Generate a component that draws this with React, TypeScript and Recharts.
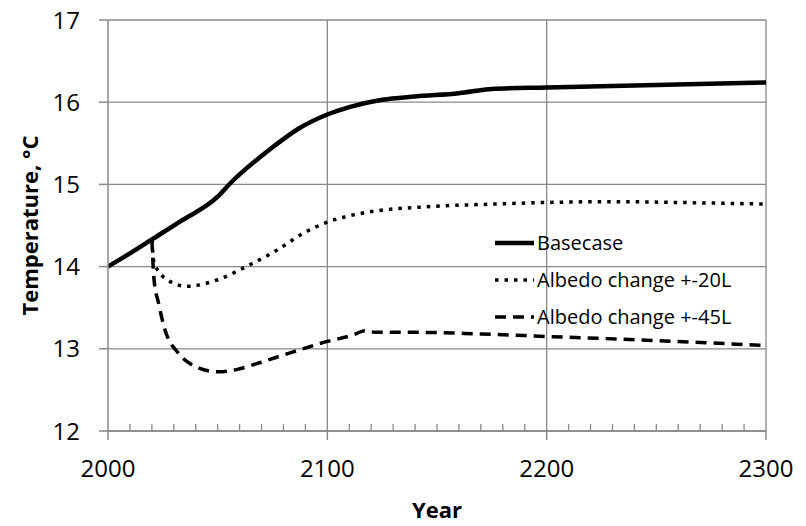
import { LineChart, Line, XAxis, YAxis, CartesianGrid, ReferenceLine } from 'recharts';

const majorYears = [2000, 2100, 2200, 2300];
const allYearTicks = [2000, 2010, 2020, 2030, 2040, 2050, 2060, 2070, 2080, 2090, 2100, 2110, 2120, 2130, 2140, 2150, 2160, 2170, 2180, 2190, 2200, 2210, 2220, 2230, 2240, 2250, 2260, 2270, 2280, 2290, 2300];
const yTicks = [12, 13, 14, 15, 16, 17];

const baseYears = [2000, 2010, 2020, 2033, 2050, 2056, 2074, 2087, 2100, 2110, 2125, 2140, 2160, 2175, 2200, 2250, 2300];
const baseTemps = [14.0, 14.16, 14.33, 14.55, 14.85, 15.02, 15.43, 15.68, 15.85, 15.94, 16.03, 16.07, 16.11, 16.16, 16.18, 16.21, 16.24];

const alb20Years = [2020, 2021, 2027, 2036, 2050, 2063, 2077, 2090, 2100, 2118, 2147, 2175, 2200, 2230, 2260, 2300];
const alb20Temps = [14.33, 14.05, 13.84, 13.76, 13.84, 14.0, 14.2, 14.42, 14.54, 14.66, 14.73, 14.76, 14.78, 14.79, 14.78, 14.76];

const alb45Years = [2020, 2021, 2023, 2026, 2032, 2038, 2050, 2059, 2069, 2083, 2100, 2112, 2117, 2122, 2142, 2170, 2200, 2250, 2300];
const alb45Temps = [14.33, 13.84, 13.56, 13.23, 12.95, 12.81, 12.72, 12.75, 12.83, 12.95, 13.09, 13.17, 13.22, 13.2, 13.2, 13.18, 13.15, 13.1, 13.04];

const toPoints = (years: number[], temps: number[]) => years.map((year, i) => ({ year, temp: temps[i] }));

const series = [
  { name: 'Basecase', data: toPoints(baseYears, baseTemps), width: 4.5, dash: undefined as string | undefined },
  { name: 'Albedo change +-20L', data: toPoints(alb20Years, alb20Temps), width: 3.5, dash: '3.5 6' },
  { name: 'Albedo change +-45L', data: toPoints(alb45Years, alb45Temps), width: 3.5, dash: '11 7' },
];

const gray = '#898989';
const font = '"Open Sans", sans-serif';

// bottom axis: long tick + label on the hundreds, short inner tick on the decades
function YearTick(props: any) {
  const { x, y, payload } = props;
  const major = majorYears.includes(payload.value);
  if (!major) {
    return <line x1={x} y1={y} x2={x} y2={y - 7} stroke={gray} strokeWidth={1.3} />;
  }
  return (
    <g>
      <line x1={x} y1={y} x2={x} y2={y + 9} stroke={gray} strokeWidth={1.5} />
      <text x={x} y={y + 46} textAnchor="middle" fontSize={24} fill="#000" fontFamily={font}>
        {payload.value}
      </text>
    </g>
  );
}

function LegendBox() {
  return (
    <div style={{ position: 'absolute', left: 494, top: 224, fontFamily: font, fontSize: 20, color: '#000' }}>
      {series.map((s) => (
        <div key={s.name} style={{ display: 'flex', alignItems: 'center', height: 37, whiteSpace: 'nowrap' }}>
          <svg width={43} height={10} style={{ display: 'block' }}>
            <line x1={1} y1={5} x2={40} y2={5} stroke="#000" strokeWidth={s.width} strokeDasharray={s.dash} />
          </svg>
          <span style={{ lineHeight: '20px' }}>{s.name}</span>
        </div>
      ))}
    </div>
  );
}

export default function App() {
  return (
    <div style={{ position: 'absolute', left: 0, top: 0, width: 806, height: 526, background: '#fff' }}>
      <LineChart width={806} height={526} margin={{ top: 20, right: 40, bottom: 0, left: 0 }} style={{ fontFamily: font }}>
        <CartesianGrid stroke={gray} strokeWidth={1.3} vertical={false} />
        {majorYears.slice(1).map((yr) => (
          <ReferenceLine key={yr} x={yr} stroke={gray} strokeWidth={1.3} />
        ))}
        <XAxis
          dataKey="year"
          type="number"
          domain={[2000, 2300]}
          ticks={allYearTicks}
          interval={0}
          allowDataOverflow
          height={95}
          tickSize={0}
          tickMargin={0}
          axisLine={{ stroke: gray, strokeWidth: 1.5 }}
          tickLine={false}
          tick={<YearTick />}
          label={(props: any) => {
            const vb = props.viewBox || { x: 108, y: 431, width: 658 };
            return (
              <text x={vb.x + vb.width / 2} y={vb.y + 87} textAnchor="middle" fontSize={22} fontWeight="bold" fill="#000" fontFamily={font}>
                Year
              </text>
            );
          }}
        />
        <YAxis
          type="number"
          domain={[12, 17]}
          ticks={yTicks}
          width={108}
          tickSize={9}
          tickMargin={19}
          axisLine={{ stroke: gray, strokeWidth: 1.5 }}
          tickLine={{ stroke: gray, strokeWidth: 1.5 }}
          tick={{ fill: '#000', fontSize: 24 }}
          label={(props: any) => {
            const vb = props.viewBox || { x: 0, y: 20, height: 411 };
            const cx = 38;
            const cy = vb.y + vb.height / 2;
            return (
              <text x={cx} y={cy} transform={`rotate(-90 ${cx} ${cy})`} textAnchor="middle" fontSize={22} fontWeight="bold" fill="#000" fontFamily={font}>
                Temperature, °C
              </text>
            );
          }}
        />
        {series.map((s) => (
          <Line
            key={s.name}
            data={s.data}
            dataKey="temp"
            name={s.name}
            type="monotone"
            stroke="#000"
            strokeWidth={s.width}
            strokeDasharray={s.dash}
            dot={false}
            activeDot={false}
            isAnimationActive={false}
          />
        ))}
      </LineChart>
      <LegendBox />
    </div>
  );
}
